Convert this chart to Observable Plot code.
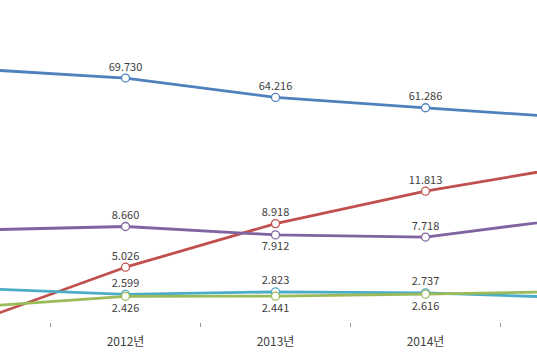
<!DOCTYPE html>
<html>
<head>
<meta charset="utf-8">
<script src="https://cdn.jsdelivr.net/npm/d3@7"></script>
<script src="https://cdn.jsdelivr.net/npm/@observablehq/plot@0.6"></script>
<style>
  html, body { margin: 0; padding: 0; background: #fff; overflow: hidden; width: 537px; height: 360px; }
  #chart svg { display: block; }
</style>
</head>
<body>
<div id="chart"></div>
<script>
// ---- data (2011 and 2015 lie just outside the view) ----
const years = [2011, 2012, 2013, 2014, 2015];
const yearLabels = ["2011년", "2012년", "2013년", "2014년", "2015년"];
const seriesNames = ["A", "B", "C", "D", "E"];
const seriesA = [72.3, 69.730, 64.216, 61.286, 58.35];   // secondary axis (blue)
const seriesB = [0.18, 5.026, 8.918, 11.813, 14.09];     // red
const seriesC = [8.34, 8.660, 7.912, 7.718, 9.43];       // purple
const seriesD = [3.13, 2.599, 2.823, 2.737, 2.30];       // cyan
const seriesE = [1.49, 2.426, 2.441, 2.616, 2.87];       // green

// ---- styles ----
const colors = {A: "#4F81BD", B: "#C0504D", C: "#8064A2", D: "#4BACC6", E: "#9BBB59"};
const secondaryRatio = 22 / 70;         // secondary (A) axis → primary axis
const labelBelow = new Set(["C-2013", "E-2012", "E-2013", "E-2014"]);
const fmt = d3.format(".3f");

const allValues = [seriesA, seriesB, seriesC, seriesD, seriesE];
const rows = [];
seriesNames.forEach((s, i) => {
  years.forEach((yr, j) => {
    const v = allValues[i][j];
    rows.push({series: s, year: yr, value: v, plotted: s === "A" ? v * secondaryRatio : v,
               below: labelBelow.has(s + "-" + yr)});
  });
});
const byS = s => rows.filter(r => r.series === s);

const W = 537, H = 360;
const xDomain = [2011 + 25 / 150, 2011 + 25 / 150 + W / 150];
const visibleYears = years.filter(y => y >= xDomain[0] && y <= xDomain[1]);
const visibleLabels = yearLabels.filter((_, i) => years[i] >= xDomain[0] && years[i] <= xDomain[1]);
const boundaries = d3.range(years[0] - 0.5, years[years.length - 1] + 1, 1)
  .filter(b => b >= xDomain[0] && b <= xDomain[1]);

const labelFont = "'Noto Sans CJK KR', 'Noto Sans', sans-serif";

const marks = [];
// tick marks between categories
marks.push(Plot.axisX({ticks: boundaries, tickSize: 4, tickFormat: () => "", label: null, stroke: "#9a9a9a", anchor: "bottom"}));
// category labels
marks.push(Plot.text(visibleYears.map((y, i) => ({year: y, label: visibleLabels[i]})), {
  x: "year", text: "label", frameAnchor: "bottom", dy: 22, fill: "#404040",
  fontSize: 12, fontFamily: labelFont
}));
// lines
for (const s of seriesNames) {
  marks.push(Plot.line(byS(s), {x: "year", y: "plotted", stroke: colors[s], strokeWidth: 2.8, clip: true}));
}
// markers
for (const s of seriesNames) {
  marks.push(Plot.dot(byS(s), {x: "year", y: "plotted", r: 4, fill: "white", stroke: colors[s], strokeWidth: 1.3, clip: true}));
}
// value labels
marks.push(Plot.text(rows.filter(r => r.year >= xDomain[0] && r.year <= xDomain[1] && !r.below), {
  x: "year", y: "plotted", text: d => fmt(d.value), dy: -11, fill: "#404040",
  fontSize: 11, fontFamily: labelFont
}));
marks.push(Plot.text(rows.filter(r => r.year >= xDomain[0] && r.year <= xDomain[1] && r.below), {
  x: "year", y: "plotted", text: d => fmt(d.value), dy: 12, fill: "#404040",
  fontSize: 11, fontFamily: labelFont
}));

const chart = Plot.plot({
  width: W, height: H,
  marginLeft: 0, marginRight: 0, marginTop: 43, marginBottom: 37,
  x: {type: "linear", domain: xDomain, axis: null},
  y: {domain: [0, 25], axis: null},
  style: {background: "white"},
  marks
});
document.getElementById("chart").appendChild(chart);
</script>
</body>
</html>
